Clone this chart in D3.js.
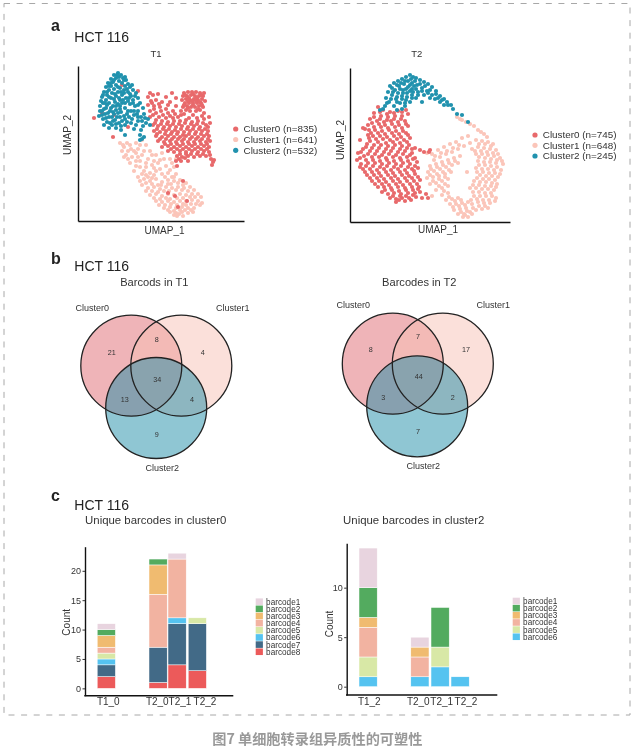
<!DOCTYPE html>
<html><head><meta charset="utf-8">
<script src="https://cdn.jsdelivr.net/npm/d3@7"></script>
<style>
html,body{margin:0;padding:0;background:#fff}
svg{display:block;filter:blur(0.4px)}
text{font-family:"Liberation Sans",Arial,sans-serif;fill:#333}
</style></head><body><svg id="c" width="633" height="747"></svg>
<script>
// UMAP values are a hand-read, representative SAMPLE of the dots in the picture (the original has n≈2000 per panel),
// in arbitrary UMAP units. No random or formula-generated points.
const t1Cluster2=[[40,148],[36,146],[43,146],[38,143],[45,143],[33,142],[48,141],[41,140],[35,139],[30,138],[44,138],[50,137],[38,136],[33,135],[47,135],[28,134],[42,133],[52,134],[36,132],[31,131],[46,131],[55,131],[26,129],[40,129],[50,129],[34,128],[58,128],[29,126],[44,126],[38,125],[53,125],[24,124],[33,123],[48,123],[60,123],[28,121],[42,121],[55,121],[37,119],[25,118],[31,118],[47,118],[62,118],[52,117],[22,115],[35,115],[42,115],[57,115],[28,113],[47,113],[65,113],[38,111],[24,110],[32,110],[53,110],[60,110],[43,109],[27,107],[36,107],[49,107],[66,107],[21,105],[56,106],[31,104],[42,104],[63,104],[25,102],[37,101],[47,102],[54,102],[70,102],[29,99],[41,98],[60,100],[68,98],[34,96],[26,96],[47,96],[72,96],[38,93],[31,93],[65,95],[43,91],[63,91],[47,86],[62,86],[64,82],[62,81],[66,84],[56,92],[41,144],[47,144],[36,141],[31,135],[54,136],[25,126],[41,123],[57,125],[50,120],[23,120],[33,113],[44,118],[59,107],[51,104],[40,108],[29,116],[22,110],[35,100],[44,100],[30,108],[64,100],[58,96],[46,128],[38,115]];
const t1Cluster2More=[[39,146],[33,138],[46,141],[40,134],[49,132],[29,129],[37,127],[43,129],[52,127],[31,124],[36,122],[45,121],[51,123],[27,118],[40,117],[55,118],[60,116],[26,112],[42,112],[50,110],[35,109],[46,105],[56,110],[28,103],[34,104],[39,104],[60,104],[32,98],[38,97],[53,98],[24,106],[49,99],[67,103],[43,95]];
const t1Cluster0=[[106,128],[110,129],[114,129],[118,129],[122,128],[126,128],[105,125],[109,125],[113,126],[117,125],[121,125],[125,125],[104,121],[108,122],[112,121],[116,122],[120,121],[124,122],[127,120],[107,118],[111,118],[115,118],[119,118],[123,118],[105,114],[109,115],[113,114],[117,114],[121,115],[125,114],[103,110],[108,111],[112,110],[118,110],[122,111],[126,108],[106,107],[115,106],[124,105],[70,124],[75,126],[80,127],[88,124],[94,128],[98,123],[73,120],[78,121],[84,119],[92,119],[98,115],[70,116],[76,115],[82,114],[88,112],[95,110],[72,110],[78,108],[85,106],[92,105],[100,104],[72,104],[78,101],[84,100],[90,99],[96,100],[102,100],[108,101],[114,99],[120,100],[126,102],[131,104],[75,96],[80,95],[86,94],[92,95],[98,94],[104,95],[110,94],[116,95],[122,94],[128,96],[132,98],[76,90],[82,89],[88,90],[94,89],[100,89],[106,89],[112,90],[118,89],[124,90],[130,90],[78,85],[84,84],[90,85],[96,84],[102,84],[108,85],[114,84],[120,84],[126,85],[131,85],[80,80],[86,79],[92,80],[98,79],[104,80],[110,79],[116,79],[122,80],[128,79],[132,80],[84,74],[90,75],[96,74],[102,75],[108,74],[114,75],[120,74],[126,75],[131,74],[90,70],[96,69],[102,70],[108,69],[114,70],[120,69],[126,70],[131,69],[99,65],[104,64],[110,65],[116,64],[122,65],[128,65],[98,60],[103,60],[110,60],[99,55],[133,62],[135,59],[134,56],[136,61],[132,66],[36,106],[60,130],[44,136],[72,128],[35,84],[50,94],[16,103],[24,108],[105,40],[97,25],[109,20],[100,14],[90,28]];
const t1Cluster0More=[[77,98],[83,97],[89,97],[95,97],[101,97],[107,98],[113,97],[119,97],[125,98],[130,94],[79,92],[85,92],[91,92],[97,91],[103,92],[109,92],[115,92],[121,92],[127,92],[79,87],[87,87],[93,87],[99,87],[105,86],[111,87],[117,87],[123,87],[129,87],[82,82],[88,82],[94,82],[100,82],[106,82],[112,82],[118,82],[124,82],[130,82],[87,77],[93,77],[99,77],[105,77],[111,77],[117,77],[123,77],[129,77],[93,72],[99,72],[105,72],[111,72],[117,72],[123,72],[129,72],[102,67],[108,67],[113,67],[119,67],[125,67],[101,62],[107,63],[74,118],[81,117],[90,116],[76,112],[83,110],[90,108],[97,107],[75,106],[81,104],[88,103],[95,103],[103,106],[111,103],[119,103],[107,126],[111,123],[115,127],[119,123],[123,126],[110,120],[114,120],[118,120],[122,119],[106,116],[110,113],[115,116],[120,112],[124,116]];
const t1Cluster1=[[42,78],[46,74],[44,70],[49,78],[53,72],[48,66],[58,78],[64,81],[60,72],[54,64],[68,76],[72,70],[64,66],[58,60],[52,58],[70,62],[78,66],[84,68],[92,62],[98,62],[74,56],[80,58],[88,55],[96,54],[62,54],[66,50],[56,50],[72,48],[78,50],[84,47],[90,48],[98,47],[60,44],[66,42],[72,40],[78,42],[84,39],[90,41],[96,40],[102,41],[108,38],[64,36],[70,33],[76,34],[82,32],[88,34],[94,33],[100,34],[106,33],[112,34],[116,31],[72,26],[78,27],[84,25],[90,27],[96,26],[102,27],[108,26],[114,27],[120,27],[78,20],[84,19],[90,20],[96,19],[102,20],[108,20],[114,21],[120,20],[124,18],[86,13],[92,14],[98,13],[104,14],[110,13],[116,13],[122,16],[92,9],[98,8],[104,9],[110,8],[115,9],[99,5],[105,5],[108,16],[68,58],[50,70],[46,64],[74,43],[82,61],[90,37],[68,46],[80,36],[94,44],[62,60],[58,68],[86,30],[76,53],[92,22],[100,38],[112,24],[104,31]];
const t1Cluster1More=[[45,76],[52,76],[56,70],[62,76],[66,70],[50,62],[60,64],[74,66],[76,60],[86,62],[94,58],[68,54],[82,52],[92,51],[58,55],[64,47],[70,44],[76,46],[87,44],[96,44],[62,40],[68,38],[74,37],[83,36],[93,37],[98,31],[105,36],[68,30],[74,30],[80,29],[91,30],[110,30],[76,23],[82,22],[88,23],[99,23],[105,23],[117,24],[123,24],[81,16],[87,16],[93,17],[99,16],[105,17],[113,17],[118,17],[90,11],[96,10],[102,11],[107,11],[113,11],[101,7],[96,6]];
const t2Cluster2=[[60,147],[56,145],[63,145],[52,143],[66,144],[58,141],[48,141],[70,142],[44,139],[54,138],[62,139],[74,140],[40,136],[49,136],[58,135],[67,137],[78,138],[45,132],[53,132],[62,133],[72,134],[82,135],[38,130],[48,129],[57,129],[68,130],[77,131],[86,131],[42,127],[52,126],[62,127],[74,127],[82,127],[90,126],[36,124],[46,123],[56,122],[66,124],[85,123],[94,123],[39,120],[50,119],[60,120],[90,120],[97,120],[35,116],[44,116],[55,116],[101,117],[94,117],[33,113],[47,112],[52,113],[103,113],[107,108],[112,107],[118,100],[72,120],[80,124],[30,112]];
const t2Cluster2More=[[61,143],[55,141],[65,141],[51,139],[60,137],[47,137],[56,133],[64,136],[70,138],[42,134],[50,133],[60,131],[66,133],[75,136],[43,130],[53,129],[63,130],[72,131],[80,132],[47,125],[57,125],[68,127],[78,129],[86,128],[41,123],[52,123],[62,124],[88,124],[92,122],[37,119],[47,120],[55,119],[98,117]];
const t2Cluster0=[[28,115],[33,112],[40,110],[48,111],[56,112],[24,109],[31,106],[38,105],[45,106],[52,106],[58,108],[20,103],[27,101],[34,100],[41,101],[48,100],[55,101],[18,97],[24,95],[31,95],[38,94],[45,95],[52,94],[58,96],[15,93],[21,89],[28,89],[35,88],[42,89],[49,88],[56,89],[19,84],[26,83],[33,83],[40,82],[47,83],[54,82],[60,84],[17,78],[24,77],[31,77],[38,76],[45,77],[52,76],[59,77],[65,74],[70,72],[13,73],[20,71],[27,71],[34,70],[41,71],[48,70],[55,71],[62,69],[8,69],[14,66],[22,65],[29,65],[36,64],[43,65],[50,64],[57,65],[63,63],[7,62],[11,58],[18,59],[25,59],[32,58],[39,59],[46,58],[53,59],[60,58],[67,60],[13,53],[20,53],[27,52],[34,53],[41,52],[48,53],[55,52],[62,53],[68,54],[17,47],[24,47],[31,46],[38,47],[45,46],[52,47],[59,46],[65,48],[22,41],[29,41],[36,40],[43,41],[50,40],[57,41],[64,41],[70,42],[28,35],[34,35],[41,34],[48,35],[55,34],[62,35],[69,35],[32,30],[38,28],[44,29],[51,28],[58,29],[65,29],[70,30],[40,24],[46,23],[52,24],[59,24],[66,25],[46,20],[72,24],[76,28],[78,24],[80,72],[79,70],[74,70],[10,82],[13,94]];
const t2Cluster0More=[[30,110],[37,108],[44,109],[52,110],[24,105],[30,103],[37,102],[44,103],[51,103],[22,99],[29,98],[35,97],[42,98],[49,97],[56,98],[19,92],[25,92],[32,91],[39,92],[46,91],[53,91],[18,87],[23,86],[30,86],[37,85],[44,86],[51,85],[58,87],[20,81],[28,80],[36,79],[43,80],[50,79],[57,80],[16,75],[22,74],[29,74],[36,73],[43,74],[50,73],[57,74],[62,73],[11,70],[18,68],[25,68],[32,67],[39,68],[46,67],[53,68],[60,67],[10,64],[16,62],[23,62],[30,61],[37,62],[44,61],[51,62],[58,61],[65,64],[10,55],[16,56],[23,56],[30,55],[37,56],[44,55],[51,56],[58,55],[65,56],[15,50],[22,50],[29,49],[36,50],[43,49],[50,50],[57,49],[64,51],[20,44],[27,44],[34,43],[41,44],[48,43],[55,44],[62,44],[68,45],[25,38],[32,38],[39,37],[46,38],[53,37],[60,38],[67,38],[35,32],[42,32],[49,31],[56,32],[63,32],[68,33],[43,26],[50,26],[56,26],[63,27],[49,22],[55,21],[61,22]];
const t2Cluster1=[[77,69],[82,68],[88,72],[94,75],[100,78],[106,80],[112,84],[118,86],[84,62],[90,65],[96,68],[102,70],[108,73],[114,76],[120,79],[126,82],[132,81],[138,80],[143,78],[80,56],[86,58],[92,60],[98,62],[104,64],[110,66],[122,73],[128,75],[134,74],[140,73],[146,72],[78,50],[84,51],[90,53],[96,55],[102,57],[108,59],[126,68],[132,68],[138,67],[144,66],[150,64],[77,44],[83,45],[89,46],[95,48],[101,50],[128,61],[134,60],[140,60],[146,59],[153,58],[80,38],[86,39],[92,41],[98,43],[126,54],[132,53],[138,53],[144,52],[151,52],[86,32],[92,34],[98,36],[130,47],[136,46],[142,46],[148,45],[92,27],[98,29],[124,41],[130,40],[136,40],[142,39],[147,38],[96,22],[102,23],[108,24],[120,34],[126,34],[132,33],[138,33],[144,32],[100,18],[106,18],[112,19],[118,20],[124,26],[130,26],[136,26],[142,26],[146,24],[104,12],[110,13],[116,14],[122,18],[128,20],[134,19],[140,19],[108,8],[114,8],[120,10],[126,12],[132,13],[138,14],[113,5],[118,5],[107,105],[112,102],[120,98],[124,96],[128,92],[134,88],[137,85],[117,50],[82,26]];
const t2Cluster1More=[[85,66],[91,69],[97,71],[103,74],[109,77],[129,78],[135,78],[141,76],[87,55],[93,57],[99,59],[105,61],[125,71],[131,71],[137,70],[143,69],[148,68],[81,53],[87,48],[93,50],[99,52],[129,65],[135,64],[141,63],[147,62],[152,61],[80,47],[83,41],[89,43],[95,45],[129,57],[135,57],[141,56],[147,55],[127,50],[133,50],[139,49],[145,49],[150,48],[89,36],[95,38],[127,44],[133,43],[139,43],[145,42],[94,31],[99,25],[123,37],[129,37],[135,36],[141,36],[146,35],[105,21],[111,22],[123,30],[129,30],[135,29],[141,29],[103,15],[109,16],[115,17],[121,22],[127,23],[133,22],[139,22],[145,21],[111,10],[117,11],[123,14],[129,16],[135,16],[115,7],[122,8],[110,103],[116,100],[131,90]];
const clusterNames=["Cluster0","Cluster1","Cluster2"];
const t1Counts=[835,641,532], t2Counts=[745,648,245];
const clusterColors=["#E8696B","#FBC5B9","#2192AE"];
const vennFill=["#DF6A72","#F7C1B6","#1F8DA7"];
const vennT1=[21,8,4,34,13,4,9], vennT2=[8,7,17,44,3,2,7];

const barcodes=["barcode1","barcode2","barcode3","barcode4","barcode5","barcode6","barcode7","barcode8"];
const barcodeColors=["#E8D4DF","#53AB5F","#F0BB70","#F2B3A1","#D8E8A6","#55C3F0","#426A87","#EC5A5A"];
const c0Groups=["T1_0","T2_0","T2_1","T2_2"];
const c0b1=[1,0,1,0],c0b2=[1,1,0,0],c0b3=[2,5,0,0],c0b4=[1,9,10,0],c0b5=[1,0,0,1],c0b6=[1,0,1,0],c0b7=[2,6,7,8],c0b8=[2,1,4,3];
const c2Groups=["T1_2","T2_0","T2_1","T2_2"];
const c2b1=[4,1,0,0],c2b2=[3,0,4,0],c2b3=[1,1,0,0],c2b4=[3,2,0,0],c2b5=[2,0,2,0],c2b6=[1,1,2,1];
const c0Ticks=[0,5,10,15,20], c2Ticks=[0,5,10];

const svg=d3.select("#c");
const txt=(x,y,s,size,o={})=>{const t=svg.append("text").attr("x",x).attr("y",y).attr("font-size",size).attr("text-anchor",o.a||"start").text(s);
  if(o.w)t.attr("font-weight",o.w); if(o.c)t.style("fill",o.c); if(o.f)t.style("font-family",o.f); if(o.r)t.attr("transform",`rotate(${o.r} ${x} ${y})`); return t;};

// frame
svg.append("rect").attr("x",4).attr("y",3.5).attr("width",626).attr("height",711.5).attr("fill","none").attr("stroke","#a8a8a8").attr("stroke-width",1).attr("stroke-dasharray","6 6.6");
txt(317.3,744,"图7 单细胞转录组异质性的可塑性",14.2,{a:"middle",w:"bold",c:"#999",f:'"Noto Sans CJK SC"'});

// panel letters + headers
[["a",31,41.5],["b",264,270.7],["c",501,510]].forEach(([l,y,hy])=>{
  txt(51,y,l,16,{w:"bold",c:"#222"});
  txt(74.3,hy,"HCT 116",14,{c:"#222"});
});

// UMAP panels
function umap(o){
  const x=d3.scaleLinear().domain([0,o.xMax]).range([o.x0,o.x0+o.xMax]);
  const y=d3.scaleLinear().domain([0,o.yMax]).range([o.y0,o.y0-o.yMax]);
  const g=svg.append("g");
  [1,0,2].forEach(i=>{
    g.selectAll(null).data(o.series[i]).join("circle").attr("cx",d=>x(d[0])).attr("cy",d=>y(d[1])).attr("r",2.1).attr("fill",clusterColors[i]);
  });
  svg.append("g").attr("transform",`translate(${o.x0},0)`).call(d3.axisLeft(y).tickValues([]).tickSizeOuter(0)).select("path").attr("stroke","#111").attr("stroke-width",1.4);
  svg.append("g").attr("transform",`translate(0,${o.y0})`).call(d3.axisBottom(x).tickValues([]).tickSizeOuter(0)).select("path").attr("stroke","#111").attr("stroke-width",1.4);
  txt(o.tx,56.5,o.title,9.5,{a:"middle"});
  txt(o.x1,o.x1y,"UMAP_1",10,{a:"middle"});
  txt(o.y2x,o.y2y,"UMAP_2",10,{a:"middle",r:-90});
  clusterNames.forEach((n,i)=>{
    const ly=o.ly[i];
    svg.append("circle").attr("cx",o.lx).attr("cy",ly).attr("r",2.6).attr("fill",clusterColors[i]);
    txt(o.lx+7.8,ly+3.4,`${n} (n=${o.counts[i]})`,9.9);
  });
}
umap({x0:78,y0:221,xMax:166,yMax:155,series:[t1Cluster0.concat(t1Cluster0More),t1Cluster1.concat(t1Cluster1More),t1Cluster2.concat(t1Cluster2More)],title:"T1",tx:156,x1:164.5,x1y:234,y2x:70.5,y2y:135,lx:235.7,ly:[129,139.5,150.3],counts:t1Counts});
umap({x0:350,y0:222,xMax:160,yMax:154,series:[t2Cluster0.concat(t2Cluster0More),t2Cluster1.concat(t2Cluster1More),t2Cluster2.concat(t2Cluster2More)],title:"T2",tx:416.7,x1:438,x1y:232.5,y2x:343.5,y2y:140,lx:535,ly:[135,145.3,156],counts:t2Counts});

// Venn panels
function venn(o){
  const r=50.5, cs=[[o.c0x,o.cy],[o.c0x+50,o.cy],[o.c2x,o.cy2]];
  cs.forEach((c,i)=>svg.append("circle").attr("cx",c[0]).attr("cy",c[1]).attr("r",r).attr("fill",vennFill[i]).attr("fill-opacity",.5));
  cs.forEach(c=>svg.append("circle").attr("cx",c[0]).attr("cy",c[1]).attr("r",r).attr("fill","none").attr("stroke","#222").attr("stroke-width",1.3));
  o.labels.forEach((p,i)=>txt(p[0],p[1],clusterNames[i],9,{a:"middle"}));
  o.values.forEach((v,i)=>txt(o.spots[i][0],o.spots[i][1]+2.5,v,7.2,{a:"middle",c:"#333"}));
  txt(o.tx,285.5,o.title,11.1,{a:"middle"});
}
venn({c0x:131.3,cy:365.7,c2x:156.2,cy2:408,labels:[[92.3,310.5],[232.7,310.5],[162.3,471.2]],values:vennT1,
  spots:[[111.7,352],[156.7,339],[202.7,352],[157.3,379.3],[124.7,399.3],[192,399.3],[156.7,434]],title:"Barcods in T1",tx:154.3});
venn({c0x:392.8,cy:363.7,c2x:417.2,cy2:406.3,labels:[[353.3,308.2],[493.3,308.2],[423.3,468.9]],values:vennT2,
  spots:[[370.7,349.3],[418,336.7],[466,349.3],[418.7,376.7],[383.3,397.3],[452.7,397.3],[418,431.3]],title:"Barcodes in T2",tx:419.3});

// Stacked bars: barcode order runs top to bottom, so the stack is built from the last key upward
function bars(o){
  const table=o.groups.map((g,j)=>{const r={group:g,j};o.keys.forEach((k,i)=>r[k]=o.series[i][j]);return r;});
  const stack=d3.stack().keys([...o.keys].reverse())(table);
  const x=d3.scaleOrdinal(d3.range(o.groups.length),o.barX);
  const y=d3.scaleLinear().domain(o.yDomain).range([o.yBottom,o.yTop]);
  stack.forEach(layer=>{
    const color=barcodeColors[barcodes.indexOf(layer.key)];
    svg.append("g").selectAll("rect").data(layer.filter(d=>d[1]>d[0])).join("rect")
      .attr("x",d=>x(d.data.j)).attr("width",18.2).attr("y",d=>y(d[1])).attr("height",d=>y(d[0])-y(d[1]))
      .attr("fill",color).attr("stroke","#fff").attr("stroke-width",.5);
  });
  const ya=svg.append("g").attr("transform",`translate(${o.axisX},0)`).call(d3.axisLeft(y).tickValues(o.ticks).tickSize(2.5).tickSizeOuter(0).tickPadding(1.5));
  ya.select("path").attr("stroke","#111").attr("stroke-width",1.4);
  ya.selectAll("line").attr("stroke","#333");
  ya.selectAll("text").attr("font-size",9).style("font-family",'"Liberation Sans"');
  svg.append("line").attr("x1",o.axisX-.7).attr("x2",o.axisEnd).attr("y1",o.yBottom).attr("y2",o.yBottom).attr("stroke","#111").attr("stroke-width",1.4);
  o.groups.forEach((g,i)=>txt(o.labelX[i],705,g,10,{a:"middle"}));
  txt(o.countX,o.countY,"Count",10,{a:"middle",r:-90});
  txt(o.tx,524.4,o.title,11.4,{a:"middle"});
  o.keys.forEach((k,i)=>{
    const ly=o.legendY+i*7.15;
    svg.append("rect").attr("x",o.legendX).attr("y",ly-3.3).attr("width",7.2).attr("height",6.6).attr("fill",barcodeColors[i]);
    txt(o.legendX+10.4,ly+2.9,k,8.2);
  });
}
bars({groups:c0Groups,keys:barcodes,series:[c0b1,c0b2,c0b3,c0b4,c0b5,c0b6,c0b7,c0b8],barX:[97.2,149,168,188.2],
  yDomain:[-1.25,24.1],yBottom:695.7,yTop:546.7,ticks:c0Ticks,axisX:85,axisEnd:233.3,labelX:[108.3,157.3,180,205],countX:70,countY:622.3,title:"Unique barcodes in cluster0",tx:155.7,legendX:255.7,legendY:601.7});
bars({groups:c2Groups,keys:barcodes.slice(0,6),series:[c2b1,c2b2,c2b3,c2b4,c2b5,c2b6],barX:[359,410.8,431,451],
  yDomain:[-.84,14.48],yBottom:695,yTop:543.3,ticks:c2Ticks,axisX:346.7,axisEnd:497.3,labelX:[369.3,418.3,441.7,466],countX:332.5,countY:624,title:"Unique barcodes in cluster2",tx:413.7,legendX:512.7,legendY:601});
</script>
</body></html>
